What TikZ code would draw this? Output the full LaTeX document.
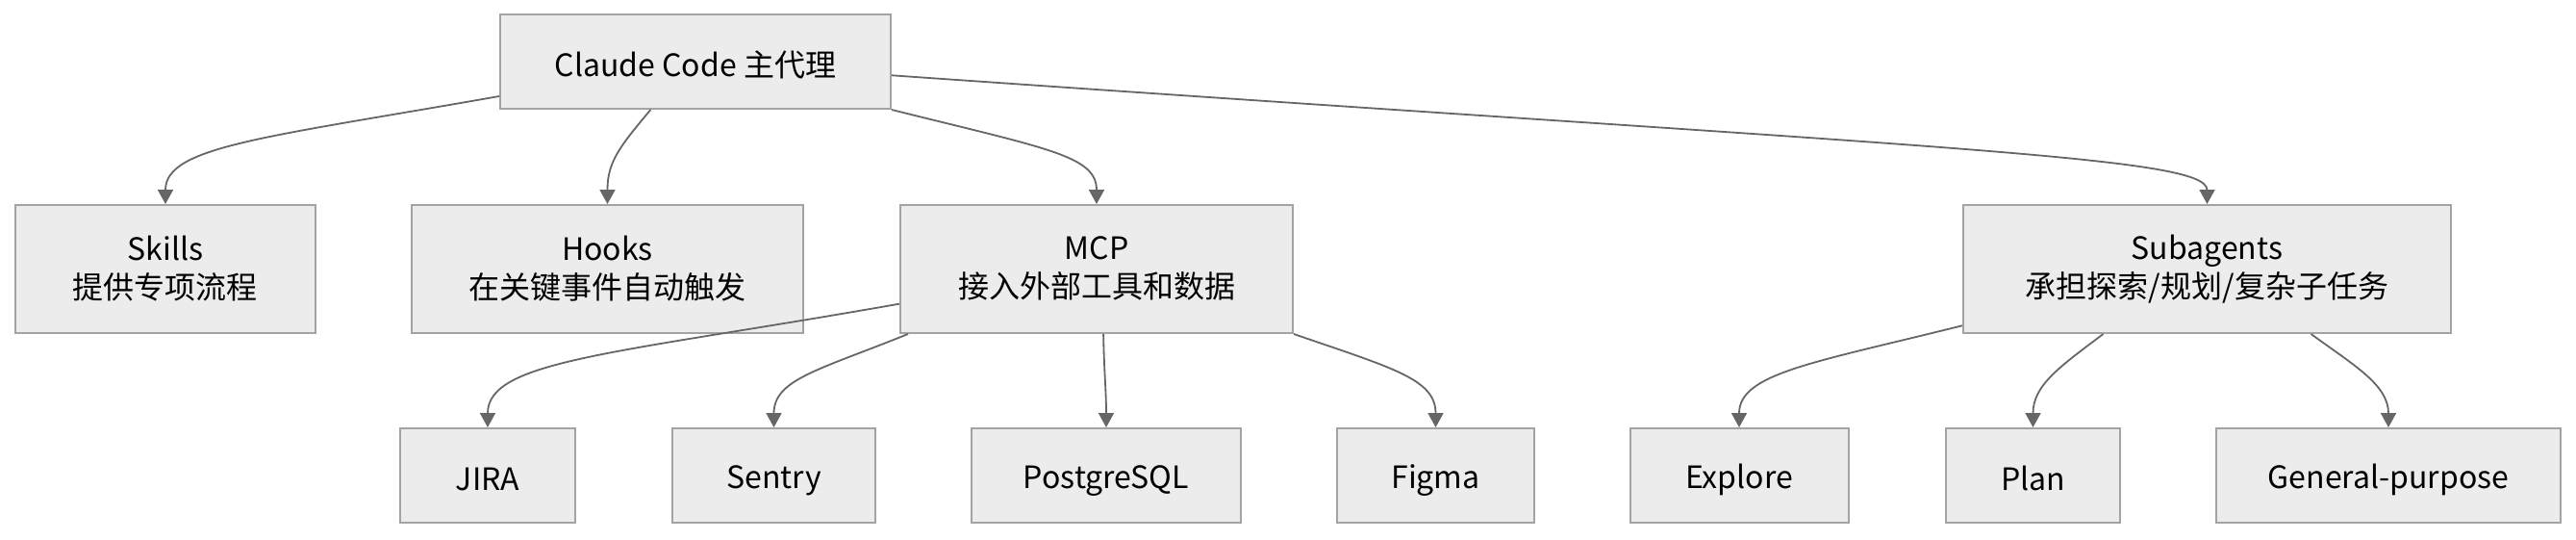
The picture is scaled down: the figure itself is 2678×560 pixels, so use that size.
\documentclass[tikz,border=0pt]{standalone}
\usepackage{fontspec}
\setmainfont{Noto Sans CJK SC}
\usetikzlibrary{arrows.meta,positioning}
\definecolor{boxfill}{HTML}{ECECEC}
\definecolor{boxdraw}{HTML}{A3A3A3}
\definecolor{linkgray}{HTML}{666666}
\newcommand\boxstrut{\rule[-1pt]{0pt}{9.5pt}}
\newcommand\tallstrut{\rule{0pt}{10.5pt}}

\begin{document}
\begin{tikzpicture}[x=0.25pt,y=0.25pt]
  % Styles for agent boxes and links
  \tikzset{agentbox/.style={draw=boxdraw, fill=boxfill, line width=0.5pt, align=center, inner sep=0pt, minimum height=24.5pt, font=\fontsize{8}{10}\selectfont, execute at begin node=\boxstrut, execute at end node=\boxstrut}}
  \tikzset{tallbox/.style={agentbox, minimum height=33.25pt, execute at begin node=\tallstrut}}
  \tikzset{agentlink/.style={draw=linkgray, line width=0.45pt, -{Triangle[length=3.75pt,width=4pt]}}}

  \useasboundingbox (0,0) rectangle (2678,-560);

  % Main agent
  \node[agentbox, minimum width=101.5pt] (claude) at (723,-64) {Claude Code 主代理};

  % Extensions
  \node[tallbox, minimum width=78pt] (skills) at (172,-279.5) {Skills\\提供专项流程};
  \node[tallbox, minimum width=101.75pt] (hooks) at (631.5,-279.5) {Hooks\\在关键事件自动触发};
  \node[tallbox, minimum width=102pt] (mcp) at (1140,-279.5) {MCP\\接入外部工具和数据};
  \node[tallbox, minimum width=126.75pt] (subagents) at (2294.5,-279.5) {Subagents\\承担探索/规划/复杂子任务};

  % MCP servers
  \node[agentbox, minimum width=45.5pt] (jira) at (507,-494) {JIRA};
  \node[agentbox, minimum width=52.75pt] (sentry) at (804.5,-494) {Sentry};
  \node[agentbox, minimum width=70pt] (postgres) at (1150,-494) {PostgreSQL};
  \node[agentbox, minimum width=51.25pt] (figma) at (1492.5,-494) {Figma};

  % Subagent types
  \node[agentbox, minimum width=56.75pt] (explore) at (1808,-494) {Explore};
  \node[agentbox, minimum width=45.25pt] (plan) at (2113.5,-494) {Plan};
  \node[agentbox, minimum width=89.5pt] (general) at (2483,-494) {General-purpose};

  % Links from the main agent
  \draw[agentlink] (claude.190) to[out=190, in=90, out distance=62pt, in distance=15pt] (skills.north);
  \draw[agentlink] (claude.227) to[out=230, in=90, out distance=12.5pt, in distance=11pt] (hooks.north);
  \draw[agentlink] (claude.south east) to[out=-14, in=90, out distance=42pt, in distance=12.5pt] (mcp.north);
  \draw[agentlink] (claude.356.3) to[out=-4, in=90, out distance=275pt, in distance=12.5pt] (subagents.north);

  % Links from MCP
  \draw[agentlink] (mcp.190.4) to[out=190, in=90, out distance=75pt, in distance=17.5pt] (jira.north);
  \draw[agentlink] (mcp.199) to[out=202, in=90, out distance=25pt, in distance=12.5pt] (sentry.north);
  \draw[agentlink] (mcp.276) to[out=-89, in=90] (postgres.north);
  \draw[agentlink] (mcp.south east) to[out=-19, in=90, out distance=27.5pt, in distance=12.5pt] (figma.north);

  % Links from Subagents
  \draw[agentlink] (subagents.193.5) to[out=194, in=90, out distance=40pt, in distance=14pt] (explore.north);
  \draw[agentlink] (subagents.212) to[out=217, in=90, out distance=14pt, in distance=11pt] (plan.north);
  \draw[agentlink] (subagents.328) to[out=-36, in=90, out distance=14pt, in distance=11pt] (general.north);
\end{tikzpicture}
\end{document}
